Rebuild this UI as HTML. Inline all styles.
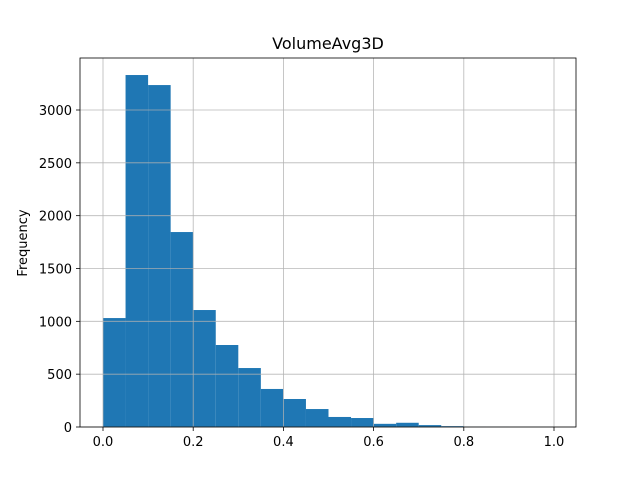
<!DOCTYPE html>
<html><head><meta charset="utf-8"><style>body{margin:0;background:#fff}svg{display:block;font-family:"DejaVu Sans","Liberation Sans",sans-serif}</style></head>
<body>
<svg id="chart" width="640" height="480">
<rect width="640" height="480" fill="#fff"/>
<g id="bars"></g><g id="grid"></g><g id="axes"></g>
</svg>
<script>
const binEdges=[0,0.05,0.1,0.15,0.2,0.25,0.3,0.35,0.4,0.45,0.5,0.55,0.6,0.65,0.7,0.75,0.8,0.85,0.9,0.95,1.0];
const counts=[1031,3331,3236,1845,1107,776,558,360,265,170,95,85,30,40,18,8,3,2,1,1];
const xTicks=[0,0.2,0.4,0.6,0.8,1.0];
const xTickLabels=["0.0","0.2","0.4","0.6","0.8","1.0"];
const yTicks=[0,500,1000,1500,2000,2500,3000];
const NS="http://www.w3.org/2000/svg";
const L=80,R=576,T=58,B=427;
const xs=v=>103+v*451;
const ys=v=>B-v*317/3000;
function mk(tag,attrs,parent,text){const e=document.createElementNS(NS,tag);for(const k in attrs)e.setAttribute(k,attrs[k]);if(text!==undefined)e.textContent=text;parent.appendChild(e);return e;}
const bars=document.getElementById('bars'),grid=document.getElementById('grid'),axes=document.getElementById('axes');
counts.forEach((c,i)=>{const x0=xs(binEdges[i]),x1=xs(binEdges[i+1]);
const r=mk('rect',{x:x0,y:ys(c),width:x1-x0,height:B-ys(c),fill:'#1f77b4'},bars);

});
xTicks.forEach((t,i)=>{const x=xs(t);
const g=mk('line',{x1:x,x2:x,y1:T,y2:B,stroke:'#b0b0b0','stroke-width':0.8,'stroke-opacity':0.9},grid);

mk('line',{x1:x,x2:x,y1:B,y2:B+4,stroke:'#000','stroke-width':0.8},axes);
const tx=mk('text',{x:x,y:B+19,'text-anchor':'middle','font-size':13,fill:'#000'},axes,xTickLabels[i]);
});
yTicks.forEach(t=>{const y=ys(t);
const g=mk('line',{x1:L,x2:R,y1:y,y2:y,stroke:'#b0b0b0','stroke-width':0.8,'stroke-opacity':0.9},grid);

mk('line',{x1:L-4,x2:L,y1:y,y2:y,stroke:'#000','stroke-width':0.8},axes);
const tx=mk('text',{x:L-8,y:y+5,'text-anchor':'end','font-size':13,fill:'#000'},axes,String(t));
});
const fr=mk('rect',{x:L,y:T,width:R-L,height:B-T,fill:'none',stroke:'#000','stroke-width':0.8},axes);

const ti=mk('text',{x:328,y:49,'text-anchor':'middle','font-size':16,fill:'#000'},axes,'VolumeAvg3D');

const yl=mk('text',{x:27,y:243,'text-anchor':'middle','font-size':13,fill:'#000',transform:'rotate(-90 27 243)'},axes,'Frequency');

</script>
</body></html>
